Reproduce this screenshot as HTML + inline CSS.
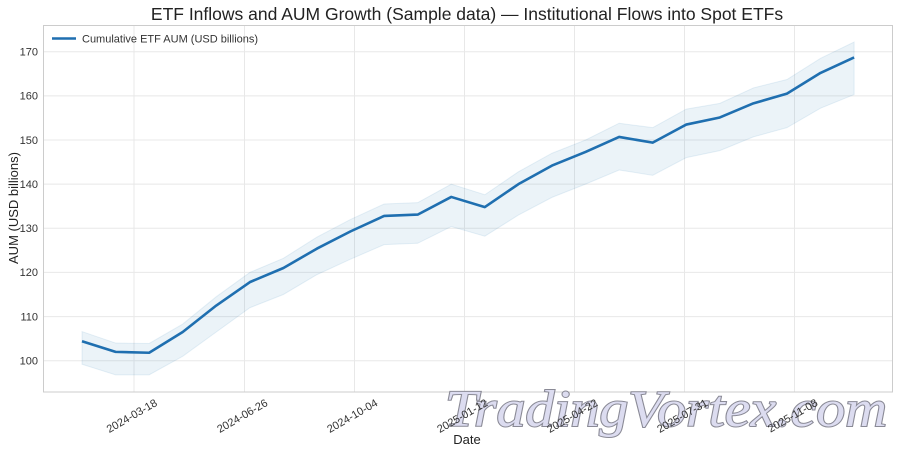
<!DOCTYPE html>
<html><head><meta charset="utf-8"><style>
html,body{margin:0;padding:0;background:#fff;}
svg{display:block;font-family:"Liberation Sans",sans-serif;}
</style></head><body>
<svg width="900" height="454" viewBox="0 0 900 454" xmlns="http://www.w3.org/2000/svg">
<rect width="900" height="454" fill="#fff"/>
<text x="467" y="20" font-size="17.5" text-anchor="middle" fill="#222">ETF Inflows and AUM Growth (Sample data) — Institutional Flows into Spot ETFs</text>
<g stroke="#e8e8e8" stroke-width="1">
<line x1="43" x2="893" y1="360.7" y2="360.7"/><line x1="43" x2="893" y1="316.6" y2="316.6"/>
<line x1="43" x2="893" y1="272.4" y2="272.4"/><line x1="43" x2="893" y1="228.3" y2="228.3"/>
<line x1="43" x2="893" y1="184.1" y2="184.1"/><line x1="43" x2="893" y1="140.0" y2="140.0"/>
<line x1="43" x2="893" y1="95.9" y2="95.9"/><line x1="43" x2="893" y1="51.7" y2="51.7"/>
<line x1="134" x2="134" y1="25" y2="392"/><line x1="244.5" x2="244.5" y1="25" y2="392"/>
<line x1="354.5" x2="354.5" y1="25" y2="392"/><line x1="464.5" x2="464.5" y1="25" y2="392"/>
<line x1="574.5" x2="574.5" y1="25" y2="392"/><line x1="684.5" x2="684.5" y1="25" y2="392"/>
<line x1="794.5" x2="794.5" y1="25" y2="392"/>
</g>
<g transform="matrix(33.57 0 0 -4.414 82 802.1)">
<polygon fill="#1f77b4" fill-opacity="0.09" stroke="#1f77b4" stroke-opacity="0.1" vector-effect="non-scaling-stroke" points="0,106.6 1,104 2,103.9 3,108.3 4,114.5 5,120 6,123.2 7,128 8,132 9,135.5 10,135.8 11,140 12,137.6 13,142.8 14,147 15,150 16,153.8 17,152.8 18,157 19,158.3 20,161.8 21,163.7 22,168.5 23,172.2 23,160.3 22,157.2 21,152.8 20,150.7 19,147.6 18,146 17,142 16,143.2 15,140 14,137 13,133 12,128.2 11,130.4 10,126.6 9,126.3 8,123 7,119.5 6,115 5,112 4,106.5 3,101 2,96.8 1,96.8 0,99.2"/>
<polyline fill="none" stroke="#1f6fb0" stroke-width="2.6" stroke-linejoin="round" vector-effect="non-scaling-stroke" points="0,104.4 1,102 2,101.8 3,106.5 4,112.5 5,117.8 6,121 7,125.4 8,129.3 9,132.8 10,133.1 11,137.1 12,134.8 13,140 14,144.2 15,147.3 16,150.7 17,149.4 18,153.5 19,155.1 20,158.3 21,160.5 22,165.2 23,168.7"/>
</g>
<rect x="43.5" y="25.5" width="849" height="366.5" fill="none" stroke="#ccc" stroke-width="1"/>
<g font-size="11" fill="#333" text-anchor="end">
<text x="38" y="364.5">100</text><text x="38" y="320.4">110</text><text x="38" y="276.2">120</text>
<text x="38" y="232.1">130</text><text x="38" y="187.9">140</text><text x="38" y="143.8">150</text>
<text x="38" y="99.7">160</text><text x="38" y="55.5">170</text>
</g>
<text x="445" y="426" font-size="52" font-style="italic" font-family="Liberation Serif,serif" textLength="442" lengthAdjust="spacingAndGlyphs" fill="#dcdcf0" stroke="#8a8a96" stroke-width="2" paint-order="stroke">TradingVortex.com</text>
<g font-size="11" fill="#333" text-anchor="end">
<text transform="translate(158,405) rotate(-30)">2024-03-18</text>
<text transform="translate(268.5,405) rotate(-30)">2024-06-26</text>
<text transform="translate(378.5,405) rotate(-30)">2024-10-04</text>
<text transform="translate(488.5,405) rotate(-30)">2025-01-12</text>
<text transform="translate(598.5,405) rotate(-30)">2025-04-22</text>
<text transform="translate(708.5,405) rotate(-30)">2025-07-31</text>
<text transform="translate(818.5,405) rotate(-30)">2025-11-08</text>
</g>
<text x="467" y="444" font-size="13" text-anchor="middle" fill="#222">Date</text>
<text transform="translate(18,208) rotate(-90)" font-size="13" text-anchor="middle" fill="#222">AUM (USD billions)</text>
<line x1="52" x2="76" y1="38.5" y2="38.5" stroke="#1f6fb0" stroke-width="2.6"/>
<text x="82" y="42.5" font-size="11" fill="#333">Cumulative ETF AUM (USD billions)</text>
</svg>
</body></html>
